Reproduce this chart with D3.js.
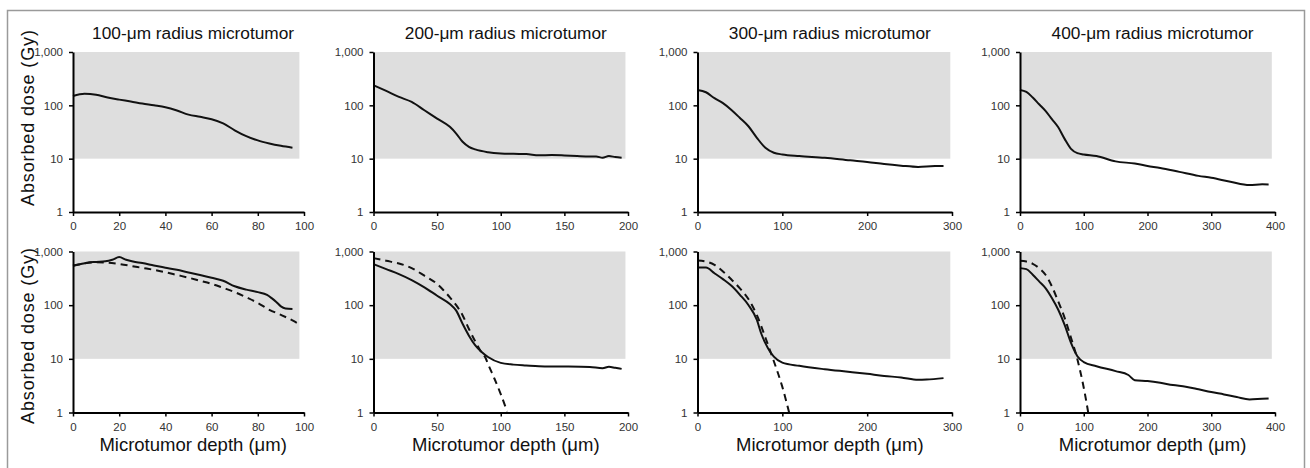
<!DOCTYPE html>
<html>
<head>
<meta charset="utf-8">
<script src="https://cdn.jsdelivr.net/npm/d3@7"></script>
<style>
  html, body { margin: 0; padding: 0; background: #fff; }
  svg { display: block; font-family: "Liberation Sans", Arial, Helvetica, sans-serif; }
</style>
</head>
<body>
<svg id="chart" width="1310" height="468"></svg>
<script>
// ---------- data ----------
const panelTitles = ["100-\u03bcm radius microtumor", "200-\u03bcm radius microtumor", "300-\u03bcm radius microtumor", "400-\u03bcm radius microtumor"];
const xMax = [100, 200, 300, 400];
const xTickValues = [[0, 20, 40, 60, 80, 100], [0, 50, 100, 150, 200], [0, 100, 200, 300], [0, 100, 200, 300, 400]];
const yTickValues = [1, 10, 100, 1000];
const shadeLow = 10, shadeHigh = 1000;
const shadeEnd = [98, 198, 298, 395];
const yLabel = "Absorbed dose (Gy)";
const xLabel = "Microtumor depth (\u03bcm)";

// top row (solid)
const top1Depth = [0, 5, 10, 15, 20, 25, 30, 35, 40, 45, 50, 55, 60, 65, 70, 75, 80, 85, 90, 95];
const top1Dose  = [150, 165, 158, 140, 128, 118, 108, 100, 92, 80, 67, 61, 55, 46, 34, 26.4, 22, 19.3, 17.4, 16];
const top2Depth = [0, 10, 20, 30, 40, 50, 60, 65, 70, 75, 80, 90, 100, 110, 120, 130, 140, 150, 160, 170, 175, 180, 185, 190, 195];
const top2Dose  = [238, 186, 144, 116, 81, 56.5, 39.5, 29.6, 20.7, 16.7, 14.9, 13.2, 12.5, 12.3, 12.2, 11.6, 11.7, 11.5, 11.2, 11.0, 11.0, 10.4, 11.2, 10.7, 10.4];
const top3Depth = [0, 10, 20, 30, 40, 50, 60, 70, 80, 90, 100, 120, 150, 180, 200, 220, 240, 260, 280, 290];
const top3Dose  = [194, 176, 136, 110, 82, 58, 40.5, 24.6, 16, 12.9, 12, 11.2, 10.4, 9.3, 8.7, 7.95, 7.4, 7.0, 7.3, 7.3];
const top4Depth = [0, 10, 20, 30, 40, 50, 60, 70, 80, 90, 100, 120, 150, 180, 200, 220, 250, 280, 300, 330, 360, 380, 390];
const top4Dose  = [194, 178, 140, 105, 79, 55, 38.7, 23.5, 15.3, 12.7, 12, 11.2, 8.9, 8.1, 7.3, 6.7, 5.65, 4.76, 4.37, 3.69, 3.2, 3.3, 3.29];

// bottom row (solid)
const bot1Depth = [0, 3, 6, 10, 14, 17, 20, 23, 26, 30, 35, 40, 45, 50, 55, 60, 65, 70, 75, 80, 84, 86, 88, 90, 92, 95];
const bot1Dose  = [541, 580, 620, 640, 655, 700, 790, 700, 650, 610, 550, 500, 455, 405, 365, 325, 285, 225, 195, 175, 155, 135, 115, 95, 87, 85];
const bot2Depth = [0, 10, 20, 30, 40, 50, 60, 65, 70, 75, 80, 85, 90, 100, 110, 120, 130, 150, 170, 180, 185, 190, 195];
const bot2Dose  = [582, 470, 380, 294, 215, 150, 105, 79, 45, 27, 17.8, 13.4, 10.8, 8.4, 7.8, 7.5, 7.25, 7.2, 7.05, 6.7, 7.1, 6.8, 6.5];
const bot3Depth = [0, 10, 20, 30, 40, 50, 60, 70, 75, 80, 85, 90, 100, 120, 150, 180, 200, 220, 240, 260, 270, 290];
const bot3Dose  = [504, 504, 394, 305, 229, 156, 101, 53, 30, 19.6, 14, 11, 8.5, 7.4, 6.4, 5.7, 5.25, 4.8, 4.5, 4.06, 4.1, 4.37];
const bot4Depth = [0, 10, 20, 30, 40, 50, 60, 70, 80, 90, 100, 120, 150, 170, 180, 200, 220, 240, 260, 280, 300, 320, 340, 360, 380, 390];
const bot4Dose  = [490, 470, 369, 277, 208, 136, 82, 43, 19.8, 11.2, 8.7, 7.3, 5.9, 5.0, 4.0, 3.85, 3.58, 3.24, 3.02, 2.7, 2.4, 2.17, 1.94, 1.75, 1.8, 1.82];

// bottom row (dashed)
const dash1Depth = [0, 5, 10, 15, 20, 25, 30, 35, 40, 45, 50, 55, 60, 65, 70, 75, 80, 85, 90, 95, 98];
const dash1Dose  = [545, 600, 630, 620, 585, 540, 495, 455, 410, 365, 325, 285, 250, 210, 175, 140, 110, 82, 66, 52, 44];
const dash2Depth = [0, 10, 20, 30, 40, 50, 55, 60, 65, 70, 75, 80, 85, 88, 90, 95, 100, 105];
const dash2Dose  = [752, 671, 599, 490, 354, 248, 190, 140, 100, 65, 36, 21, 13, 10.5, 8, 4.3, 2.2, 1.05];
const dash3Depth = [0, 10, 20, 30, 40, 50, 60, 70, 80, 85, 90, 100, 108];
const dash3Dose  = [680, 651, 563, 424, 300, 205, 130, 65, 25, 15, 9, 3.0, 1.0];
const dash4Depth = [0, 10, 20, 30, 40, 50, 60, 70, 80, 90, 100, 107];
const dash4Dose  = [671, 650, 590, 490, 369, 224, 117, 58, 24.6, 9.8, 2.9, 1.0];

const zip = (xs, ys) => xs.map((x, i) => ({ x: x, y: ys[i] }));
const topSolid = [zip(top1Depth, top1Dose), zip(top2Depth, top2Dose), zip(top3Depth, top3Dose), zip(top4Depth, top4Dose)];
const botSolid = [zip(bot1Depth, bot1Dose), zip(bot2Depth, bot2Dose), zip(bot3Depth, bot3Dose), zip(bot4Depth, bot4Dose)];
const botDash  = [zip(dash1Depth, dash1Dose), zip(dash2Depth, dash2Dose), zip(dash3Depth, dash3Dose), zip(dash4Depth, dash4Dose)];

// ---------- layout ----------
const svg = d3.select("#chart");
const xPix = [[73, 304], [373.5, 628], [697.5, 952], [1020, 1275]];
const rows = [
  { yr: [212, 52], solid: topSolid, dash: null, title: true },
  { yr: [412.5, 251.5], solid: botSolid, dash: botDash, title: false }
];

// outer frame
svg.append("rect")
  .attr("x", 7.5).attr("y", 10.5).attr("width", 1297).attr("height", 480)
  .attr("fill", "none").attr("stroke", "#9a9a9a").attr("stroke-width", 1.5);

rows.forEach((row, ri) => {
  const y = d3.scaleLog().domain([1, 1000]).range(row.yr);
  xPix.forEach((xr, pi) => {
    const x = d3.scaleLinear().domain([0, xMax[pi]]).range(xr);
    const g = svg.append("g");

    // shaded band
    g.append("rect")
      .attr("x", x(0)).attr("y", y(shadeHigh))
      .attr("width", x(shadeEnd[pi]) - x(0))
      .attr("height", y(shadeLow) - y(shadeHigh))
      .attr("fill", "#dedede");

    const line = d3.line().x(d => x(d.x)).y(d => y(d.y)).curve(d3.curveMonotoneX);

    if (row.dash) {
      g.append("path").datum(row.dash[pi])
        .attr("d", line).attr("fill", "none")
        .attr("stroke", "#111").attr("stroke-width", 2)
        .attr("stroke-dasharray", "7,5");
    }
    g.append("path").datum(row.solid[pi])
      .attr("d", line).attr("fill", "none")
      .attr("stroke", "#111").attr("stroke-width", 2);

    // axes
    const ya = g.append("g").attr("transform", `translate(${x(0)},0)`)
      .call(d3.axisLeft(y).tickValues(yTickValues).tickFormat(d3.format(",")).tickSize(4).tickSizeOuter(0).tickPadding(6));
    const xa = g.append("g").attr("transform", `translate(0,${y(1)})`)
      .call(d3.axisBottom(x).tickValues(xTickValues[pi]).tickSize(4).tickSizeOuter(0).tickPadding(6));
    [ya, xa].forEach(a => {
      a.select(".domain").attr("stroke", "#000").attr("stroke-width", 2);
      a.selectAll(".tick line").attr("stroke", "#000").attr("stroke-width", 1.5);
      a.selectAll(".tick text").attr("fill", "#333").style("font-size", "11.5px")
        .style("font-family", "'Liberation Sans', Arial, sans-serif");
    });

    const cx = xr[0] + (xr[1] - xr[0]) * 0.52;
    if (row.title) {
      g.append("text").attr("x", cx).attr("y", 39)
        .attr("text-anchor", "middle").attr("fill", "#111")
        .style("font-size", "17.3px").text(panelTitles[pi]);
    } else {
      g.append("text").attr("x", cx).attr("y", 451)
        .attr("text-anchor", "middle").attr("fill", "#111")
        .style("font-size", "18.5px").text(xLabel);
    }
    if (pi === 0) {
      const cy = ri === 0 ? 118 : 336;
      g.append("text").attr("transform", `translate(34,${cy}) rotate(-90)`)
        .attr("text-anchor", "middle").attr("fill", "#111")
        .attr("textLength", 176).attr("lengthAdjust", "spacing")
        .style("font-size", "18px").text(yLabel);
    }
  });
});
</script>
</body>
</html>
